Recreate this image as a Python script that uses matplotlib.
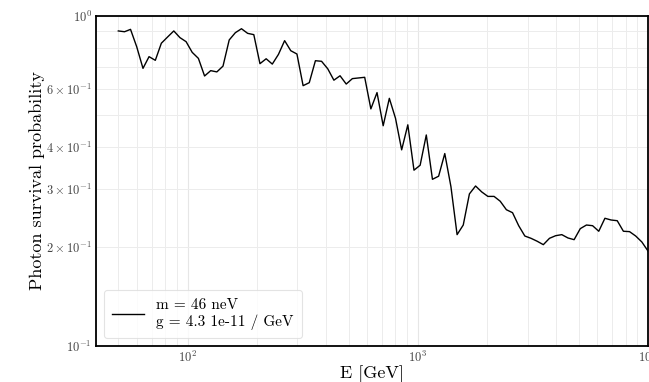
import matplotlib
matplotlib.use("Agg")
import matplotlib.pyplot as plt

plt.rcParams['font.family'] = 'serif'
plt.rcParams['font.serif'] = ['cmr10']
plt.rcParams['mathtext.fontset'] = 'cm'
plt.rcParams['axes.formatter.use_mathtext'] = True

energy_gev = [50.0, 53.2, 56.5, 60.1, 64.0, 68.0, 72.4, 76.9, 81.9, 87.1,
              92.6, 98.5, 104.7, 111.4, 118.5, 126.0, 134.0, 142.5, 151.6, 161.2,
              171.4, 182.3, 193.9, 206.2, 219.4, 233.3, 248.1, 263.9, 280.6, 298.5,
              317.5, 337.7, 359.1, 381.9, 406.2, 432.0, 459.5, 488.7, 519.7, 552.8,
              587.9, 625.3, 665.0, 707.3, 752.2, 800.0, 850.9, 905.0, 962.5, 1023.6,
              1088.6, 1157.8, 1231.4, 1309.7, 1392.9, 1481.4, 1575.6, 1675.7, 1782.2, 1895.5,
              2015.9, 2144.1, 2280.3, 2425.3, 2579.4, 2743.2, 2917.6, 3103.0, 3300.2, 3509.9,
              3732.8, 3970.1, 4222.3, 4490.7, 4776.1, 5079.5, 5402.3, 5745.5, 6110.7, 6499.1,
              6911.9, 7351.2, 7818.3, 8315.2, 8843.7, 9405.5, 10000.0]

survival_prob = [0.901, 0.896, 0.911, 0.807, 0.694, 0.753, 0.734, 0.827, 0.864, 0.901,
                 0.860, 0.836, 0.776, 0.744, 0.658, 0.683, 0.677, 0.705, 0.846, 0.890,
                 0.915, 0.886, 0.878, 0.717, 0.742, 0.715, 0.765, 0.842, 0.785, 0.767,
                 0.615, 0.628, 0.732, 0.729, 0.692, 0.639, 0.659, 0.622, 0.646, 0.649,
                 0.652, 0.523, 0.586, 0.465, 0.563, 0.490, 0.393, 0.468, 0.341, 0.353,
                 0.436, 0.320, 0.327, 0.383, 0.304, 0.2175, 0.2326, 0.289, 0.3054, 0.293,
                 0.284, 0.284, 0.2746, 0.2588, 0.2535, 0.2315, 0.2154, 0.212, 0.2077, 0.2028,
                 0.212, 0.2159, 0.2175, 0.2125, 0.210, 0.2268, 0.2326, 0.2315, 0.2227, 0.2438,
                 0.2409, 0.2397, 0.2227, 0.2221, 0.2154, 0.2066, 0.1940]

legend_label = "m = 46 neV\ng = 4.3 1e-11 / GeV"

fig = plt.figure(figsize=(6.49, 3.82), dpi=100)
ax = fig.add_axes([96/649, 1 - 346/382, (648 - 96)/649, (346 - 16)/382])

ax.plot(energy_gev, survival_prob, color='black', lw=1.0, label=legend_label)
ax.set_xscale('log')
ax.set_yscale('log')
ax.set_xlim(40, 1e4)
ax.set_ylim(0.1, 1.0)

ax.grid(True, which='major', color='#e6e6e6', lw=0.8)
ax.grid(True, which='minor', color='#ececec', lw=0.7)
ax.set_axisbelow(True)

for s in ax.spines.values():
    s.set_color('black')
    s.set_linewidth(1.3)

ax.tick_params(which='both', length=0, labelsize=9, labelcolor='#444444', pad=3)

ax.set_xlabel('E [GeV]', fontsize=13, labelpad=0)
ax.set_ylabel('Photon survival probability', fontsize=13, labelpad=1)

leg = ax.legend(loc='lower left', fontsize=11, frameon=True, handlelength=2.1,
                borderpad=0.55, bbox_to_anchor=(0.0, 0.0))
leg.get_frame().set_edgecolor('#dddddd')
leg.get_frame().set_linewidth(0.8)

fig.savefig('out.png', dpi=100)
